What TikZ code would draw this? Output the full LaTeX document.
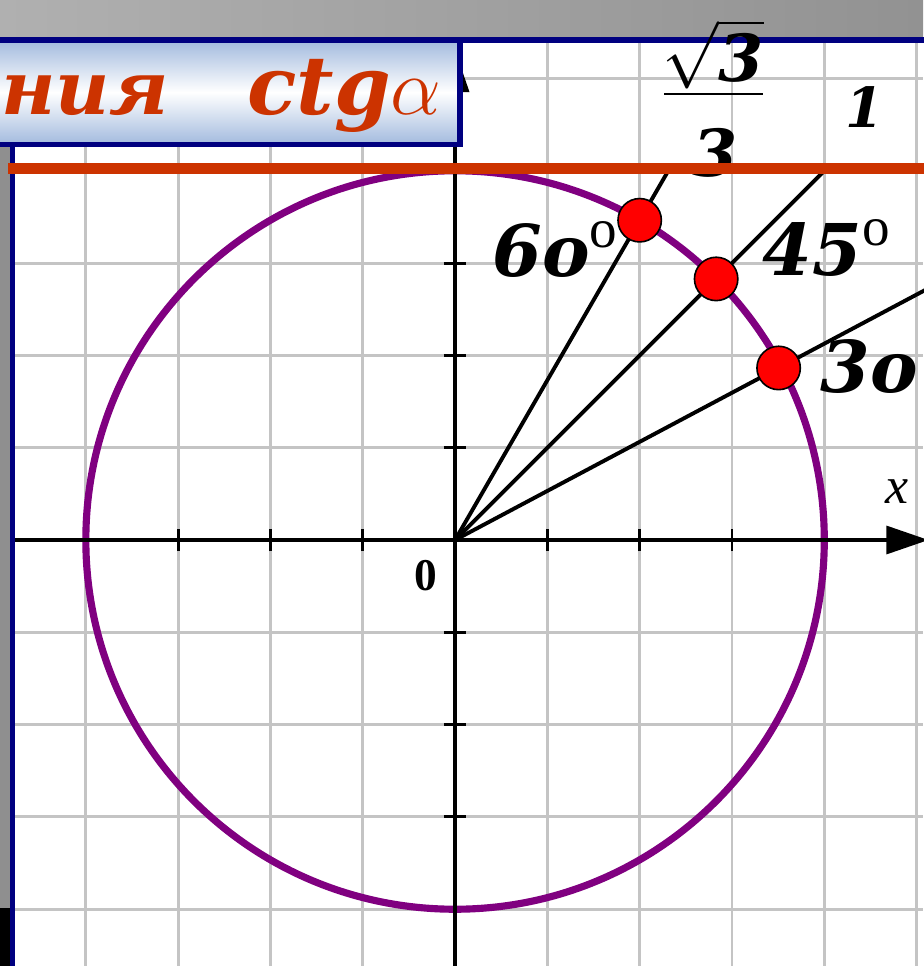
\documentclass[tikz,border=0pt]{standalone}
\usepackage{amsmath}
\usepackage{fontspec}
\usepackage{xcolor}
\usepackage{tikz}
\usetikzlibrary{arrows.meta}
\usetikzlibrary{backgrounds}
\newfontfamily\bookbi{DejaVu Serif}
\newfontfamily\timesrm{Liberation Serif}
\definecolor{navyframe}{RGB}{0,0,128}
\definecolor{ctgred}{RGB}{204,51,0}
\definecolor{circlepurple}{RGB}{128,0,128}
\definecolor{gridgray}{RGB}{196,196,196}
\definecolor{titleblue}{RGB}{162,186,222}
\definecolor{stripgray}{RGB}{143,143,143}
\definecolor{bandlight}{RGB}{176,176,176}
\definecolor{banddark}{RGB}{146,146,146}
\pgfdeclarelayer{edgelayer}
\pgfdeclarelayer{nodelayer}
\pgfsetlayers{background,edgelayer,nodelayer,main}
\tikzstyle{none}=[inner sep=0mm]
\tikzstyle{gridline}=[draw=gridgray,line width=0.9pt]
\tikzstyle{axisline}=[line width=1.4pt,-{Triangle[length=13pt,width=8.5pt]}]
\tikzstyle{tickline}=[line width=0.9pt]
\tikzstyle{ray}=[line width=1.2pt]
\tikzstyle{unitcircle}=[draw=circlepurple,line width=2.2pt]
\tikzstyle{rd}=[circle,fill=red,draw=black,line width=0.5pt,minimum size=0.47cm,inner sep=0pt]
\tikzstyle{angle label}=[inner sep=0pt,anchor=base west,font={\bookbi\bfseries\itshape\fontsize{22}{22}\selectfont}]
\tikzstyle{frac part}=[inner sep=0pt,font={\fontsize{20}{20}\selectfont}]
\tikzstyle{fracbar}=[line width=0.6pt]
\tikzstyle{axis label}=[inner sep=0pt,font={\timesrm\fontsize{16}{16}\selectfont}]
\tikzstyle{ctg line}=[draw=ctgred,line width=3.2pt]
\tikzstyle{title box}=[draw=navyframe,line width=1.6pt,top color=titleblue,bottom color=titleblue,middle color=white]
\tikzstyle{title text}=[inner sep=0pt,anchor=base east,text=ctgred,font={\bookbi\bfseries\itshape\fontsize{25}{25}\selectfont}]
\newcommand{\degsign}{\raisebox{9pt}{\timesrm\mdseries\upshape\fontsize{17}{17}\selectfont o}}
\newcommand{\bithree}{\mbox{\bookbi\bfseries\itshape 3}}

\begin{document}
\begin{tikzpicture}[x=1cm,y=1cm]
	\useasboundingbox (-4.930,-4.615) rectangle (5.071,5.850);
	\begin{pgfonlayer}{background}
		\fill[white] (-4.930,-4.615) rectangle (5.071,5.850);
		\shade[left color=bandlight,right color=banddark] (-4.930,5.417) rectangle (5.071,5.850);
		\fill[stripgray] (-4.930,-3.987) rectangle (-4.82,5.417);
		\fill[black] (-4.930,-4.615) rectangle (-4.82,-3.987);
		\draw[style=gridline,step=1] (-4.794,-4.615) grid (5.071,5.417);
		\draw[draw=navyframe,line width=1.6pt] (-4.794,5.417) -- (-4.794,-4.7);
		\draw[draw=navyframe,line width=1.6pt] (-4.95,5.417) -- (5.1,5.417);
	\end{pgfonlayer}
	\begin{pgfonlayer}{edgelayer}
		\coordinate (O) at (0,0);
		\coordinate (xl) at (-4.767,0);
		\coordinate (xr) at (5.13,0);
		\coordinate (yb) at (0,-4.7);
		\coordinate (yt) at (0,5.31);
		\coordinate (e60) at (2.327,4.03);
		\coordinate (e45) at (4.03,4.03);
		\coordinate (e30) at (5.2,2.765);
		\draw[style=unitcircle] (O) circle (4);
		\draw[style=tickline,step=1] (-3.5,-0.12) grid (3.5,0.12);
		\draw[style=tickline,step=1] (-0.12,-3.5) grid (0.12,3.5);
		\draw[style=axisline] (xl) to (xr);
		\draw[style=axisline] (yb) to (yt);
		\draw[style=ray] (O) to (e60);
		\draw[style=ray] (O) to (e45);
		\draw[style=ray] (O) to (e30);
	\end{pgfonlayer}
	\begin{pgfonlayer}{nodelayer}
		\node [style=rd] (p60) at (60:4) {};
		\node [style=rd] (p45) at (45:4) {};
		\node [style=rd] (p30) at (28:3.97) {};
	\end{pgfonlayer}
	\node [style=frac part,anchor=south] (fracnum) at (2.795,4.88) {$\sqrt{\bithree}$};
	\node [style=frac part,anchor=north] (fracden) at (2.82,4.464) {\bithree};
	\coordinate (barl) at (2.264,4.83);
	\coordinate (barr) at (3.337,4.83);
	\draw[style=fracbar] (barl) to (barr);
	\draw[style=ctg line] (-4.843,4.025) to (5.1,4.025);
	\path[style=title box] (-5.0,5.417) rectangle (0.054,4.285);
	\node [style=title text] (title) at (-0.14,4.605) {{\fontsize{23}{23}\selectfont ния}\hspace{24pt}ctg{\fontsize{26}{26}\selectfont$\alpha$}};
	\node [style=angle label] (l60) at (0.40,2.85) {6o\degsign};
	\node [style=angle label] (l45) at (3.326,2.87) {45\degsign};
	\node [style=angle label] (l30) at (3.955,1.593) {3o};
	\node [style=angle label,anchor=base,font={\bookbi\bfseries\itshape\fontsize{17}{17}\selectfont}] (l1) at (4.44,4.464) {1};
	\node [style=axis label] (xlab) at (4.79,0.52) {\itshape x};
	\node [style=axis label,font={\timesrm\bfseries\fontsize{14}{14}\selectfont}] (zero) at (-0.314,-0.39) {0};
\end{tikzpicture}
\end{document}
